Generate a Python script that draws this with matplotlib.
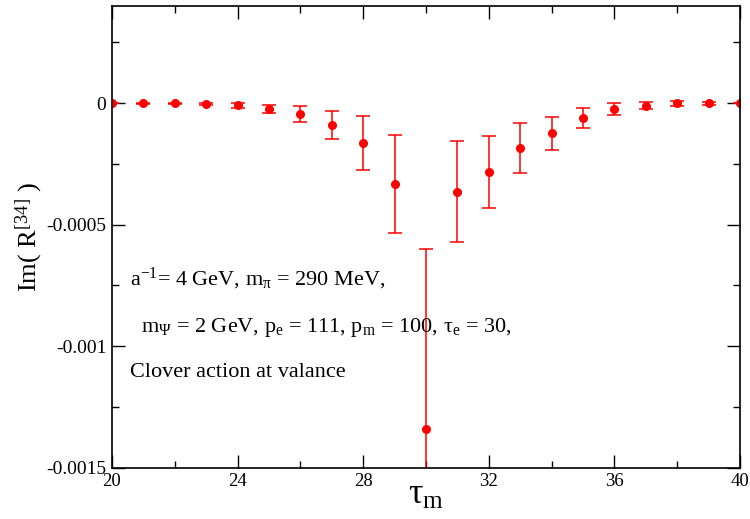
import matplotlib
matplotlib.use("Agg")
import matplotlib.pyplot as plt
from matplotlib.ticker import MultipleLocator

plt.rcParams["font.family"] = ["Liberation Serif", "DejaVu Serif"]
plt.rcParams["mathtext.fontset"] = "stix"
plt.rcParams["mathtext.default"] = "regular"

# -------- data --------
tau_m = [20, 21, 22, 23, 24, 25, 26, 27, 28, 29, 30,
         31, 32, 33, 34, 35, 36, 37, 38, 39, 40]
im_r = [0.0, 0.0, 0.0, -0.000003, -0.000008, -0.000025, -0.000045,
        -0.000089, -0.000164, -0.000333, -0.00134,
        -0.000364, -0.000284, -0.000185, -0.000124, -0.000061,
        -0.000025, -0.0000095, -0.000001, 0.0, 0.0]
im_err = [0.0, 0.000002, 0.000002, 0.000003, 0.00001, 0.000016, 0.000034,
          0.000059, 0.000112, 0.000203, 0.00074,
          0.000207, 0.000148, 0.000102, 0.000069, 0.00004,
          0.000025, 0.000013, 0.000011, 0.000007, 0.0]

info_lines = [
    r"a$^{-1}$= 4 GeV, m$_{\pi}$ = 290 MeV,",
    r"  m$_{\Psi}$ = 2 GeV, p$_{e}$ = 111, p$_{m}$ = 100, $\tau_{e}$ = 30,",
    "Clover action at valance",
]
info_y = [0.396, 0.294, 0.196]

# -------- figure --------
fig = plt.figure(figsize=(7.5, 5.19), dpi=100)
ax = fig.add_axes([0.1493, 0.0988, 0.8374, 0.8896])

ax.errorbar(tau_m, im_r, yerr=im_err, fmt="o", color="red", ms=5.5,
            elinewidth=1.1, capsize=4.7, capthick=1.1, clip_on=True)

ax.set_xlim(20, 40)
ax.set_ylim(-0.0015, 0.0004)
ax.xaxis.set_major_locator(MultipleLocator(4))
ax.xaxis.set_minor_locator(MultipleLocator(2))
ax.yaxis.set_minor_locator(MultipleLocator(0.00025))
ax.set_yticks([0, -0.0005, -0.001, -0.0015])
ax.set_yticklabels(["0", "-0.0005", "-0.001", "-0.0015"])

ax.tick_params(which="both", direction="in", top=True, right=True,
               width=1.0, pad=4)
ax.tick_params(axis="x", labelsize=13.5)
ax.tick_params(axis="y", labelsize=14)
ax.tick_params(which="major", length=9.5)
ax.tick_params(which="minor", length=5)
for s in ax.spines.values():
    s.set_linewidth(1.2)

ax.set_xlabel(r"$\tau_{m}$", fontsize=26, labelpad=-8)
ax.set_ylabel(r"Im( R$^{[34]}$ )", fontsize=19, labelpad=1)

for line, y in zip(info_lines, info_y):
    ax.text(0.0287, y, line, transform=ax.transAxes, fontsize=16,
            ha="left", va="baseline")

fig.savefig("out.png", dpi=100)
